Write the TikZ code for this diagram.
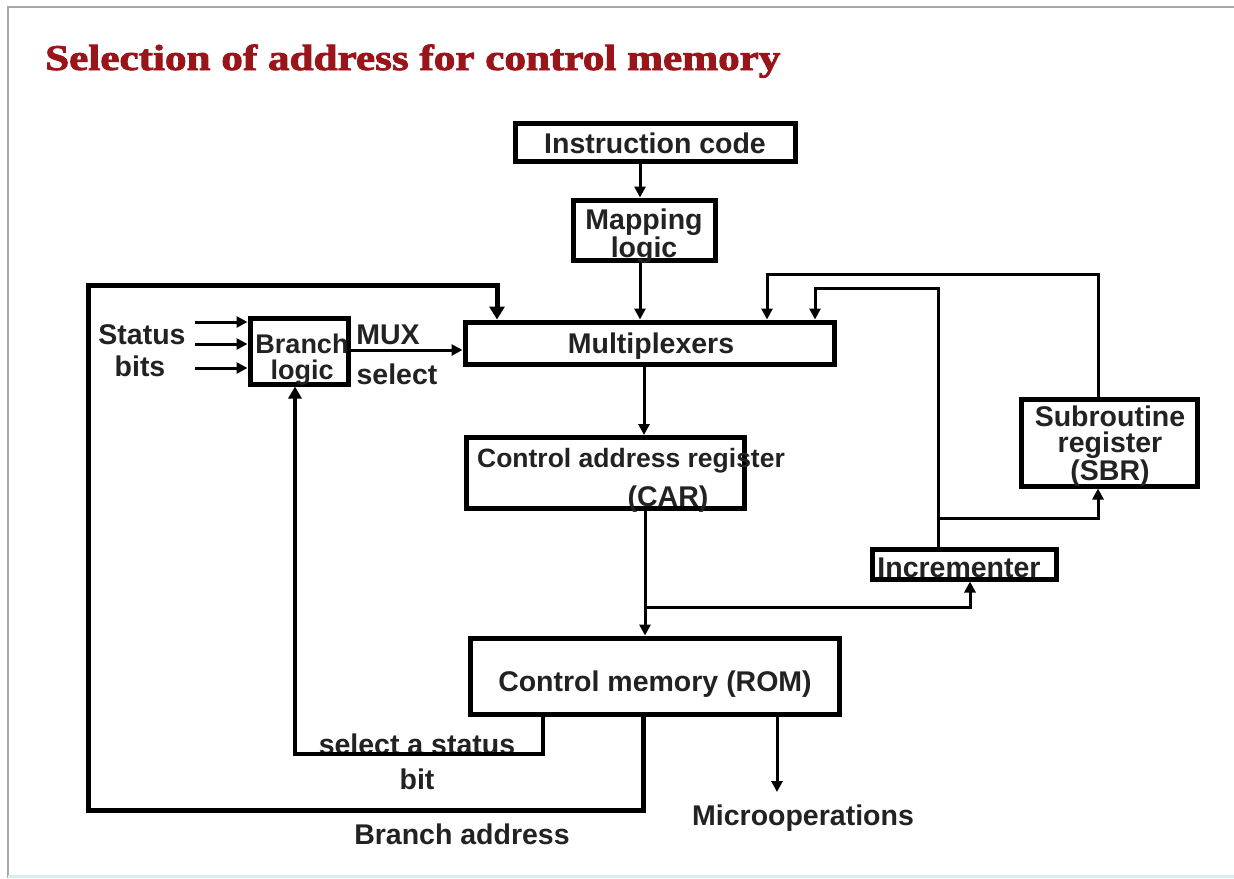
\documentclass[tikz,border=0pt]{standalone}
\usepackage{fontspec}
\setmainfont{Liberation Sans}
\newfontfamily\titlefont[FakeBold=2.2]{Liberation Serif}
\usetikzlibrary{arrows.meta,calc}
\definecolor{titlered}{HTML}{9A1519}
\definecolor{ink}{HTML}{222222}
\definecolor{framegray}{HTML}{A8A8A8}
\definecolor{framecyan}{HTML}{D4F0F2}
\begin{document}
\begin{tikzpicture}[x=1pt,y=-1pt,
  box/.style={draw=black,line width=5pt,inner sep=0pt},
  lbl/.style={font=\fontsize{28.5}{26.5}\selectfont\bfseries,text=ink,align=center,inner sep=0pt},
  wire/.style={line width=3pt,draw=black},
  arr/.style={wire,-{Triangle[length=11pt,width=11pt]}},
  bus/.style={line width=5pt,draw=black},
  busarr/.style={bus,-{Triangle[length=13pt,width=15pt]}},
]
\useasboundingbox (0,0) rectangle (1234,878);
\fill[white] (0,0) rectangle (1234,878);
% slide frame
\draw[framegray,line width=2pt] (8,878) -- (8,7) -- (1234,7);
\draw[framecyan,line width=3pt] (8,876.5) -- (1234,876.5);

% title
\node[text=titlered,font=\titlefont\bfseries,inner sep=0pt,anchor=base west] (title) at (45,70)
  {\resizebox{735pt}{25.5pt}{Selection of address for control memory}};

% blocks
\node[box,minimum width=280,minimum height=38] (instr) at (655,142) {};
\node[box,minimum width=142,minimum height=60] (map) at (644,230) {};
\node[box,minimum width=369,minimum height=42] (mux) at (649.5,343) {};
\node[box,minimum width=98,minimum height=66] (branch) at (299,351) {};
\node[box,minimum width=278,minimum height=71] (car) at (605,473) {};
\node[box,minimum width=176,minimum height=87] (sbr) at (1109,442.5) {};
\node[box,minimum width=184,minimum height=30] (inc) at (964,564) {};
\node[box,minimum width=369,minimum height=76] (rom) at (654.5,676) {};

% block texts
\node[lbl] (instrT) at (655,143) {Instruction code};
\node[lbl] (mapT) at (644,236) {Mapping\\logic};
\node[lbl] (muxT) at (651,346) {Multiplexers};
\node[lbl,font=\fontsize{27}{26}\selectfont\bfseries] (branchT) at (302,360) {Branch\\logic};
\node[lbl,font=\fontsize{26.5}{26}\selectfont\bfseries] (carT) at (631,461) {Control address register};
\node[lbl] (carT2) at (668,499) {(CAR)};
\node[lbl] (sbrT) at (1110,446) {Subroutine\\register\\(SBR)};
\node[lbl] (incT) at (959,568) {Incrementer};
\node[lbl] (romT) at (655,684) {Control memory (ROM)};

% free labels
\node[lbl] (statusT) at (142,335) {Status};
\node[lbl] (bitsT) at (140,366) {bits};
\node[lbl] (muxselA) at (388,335) {MUX};
\node[lbl] (muxselB) at (397,374) {select};
\node[lbl] (selT) at (417,744) {select a status};
\node[lbl] (bitT) at (417,779) {bit};
\node[lbl] (baddrT) at (462,834) {Branch address};
\node[lbl] (microT) at (803,818) {Microoperations};

% routing coordinates
\coordinate (x640) at (640,0);
\coordinate (x644) at (644,0);
\coordinate (split) at (645,607);
\coordinate (x970) at (970,0);
\coordinate (incup) at (938,288);
\coordinate (x815) at (815,0);
\coordinate (tap) at (938,518);
\coordinate (x1098) at (1098,0);
\coordinate (sbrup) at (1098,274);
\coordinate (x767) at (767,0);
\coordinate (x643) at (643,0);
\coordinate (bl) at (88,810);
\coordinate (tl) at (88,285);
\coordinate (x497) at (497,0);
\coordinate (x543) at (543,0);
\coordinate (sc) at (295,754);
\coordinate (x777) at (777,0);
\coordinate (microtip) at (777,792);
\coordinate (y350) at (0,350);
\coordinate (s1) at (195,322);
\coordinate (s2) at (195,344);
\coordinate (s3) at (195,368);

% main path
\draw[arr] (instr.south -| x640) -- (map.north -| x640);
\draw[arr] (map.south -| x640) -- (mux.north -| x640);
\draw[arr] (mux.south -| x644) -- (car.north -| x644);
\draw[arr] (car.south -| split) -- (rom.north -| split);
\draw[arr] (split) -| (inc.south -| x970);

% incrementer and subroutine register feedback
\draw[arr] (inc.north -| incup) -- (incup) -| (mux.north -| x815);
\draw[arr] (tap) -| (sbr.south -| x1098);
\draw[arr] (sbr.north -| x1098) -- (sbrup) -| (mux.north -| x767);

% branch address loop
\draw[busarr] (rom.south -| x643) |- (bl) -- (tl) -| (mux.north -| x497);

% status select
\draw[line width=4.5pt,-{Triangle[length=12pt,width=13pt]}] (rom.south -| x543) |- (sc) -- (branch.south -| sc);

% microoperations out
\draw[arr] (rom.south -| x777) -- (microtip);

% branch logic
\draw[arr] (branch.east |- y350) -- (mux.west |- y350);
\draw[arr] (s1) -- (branch.west |- s1);
\draw[arr] (s2) -- (branch.west |- s2);
\draw[arr] (s3) -- (branch.west |- s3);
\end{tikzpicture}
\end{document}
